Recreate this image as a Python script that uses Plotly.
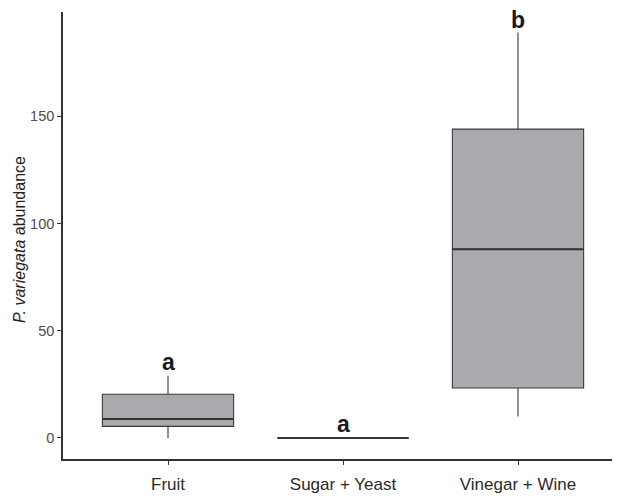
import plotly.graph_objects as go

categories = ["Fruit", "Sugar + Yeast", "Vinegar + Wine"]
lower_fence = [0, 0, 10]
q1 = [5.4, 0, 23.3]
median = [8.9, 0, 88]
q3 = [20.4, 0, 144]
upper_fence = [29, 0, 189]
letters = ["a", "a", "b"]
letter_y = [35.5, 6.5, 195]
y_ticks = [0, 50, 100, 150]
y_title = "<i>P. variegata</i> abundance"

positions = [1, 2, 3]
box_width = 0.75

fig = go.Figure()
fig.add_trace(go.Box(
    x=positions, q1=q1, median=median, q3=q3,
    lowerfence=lower_fence, upperfence=upper_fence,
    width=box_width, whiskerwidth=0,
    fillcolor="#A9AAAE",
    line=dict(color="#3a3a3a", width=1.1),
    boxpoints=False, showlegend=False, hoverinfo="skip",
))

# thicker median lines, as in ggplot
for p, m in zip(positions, median):
    fig.add_trace(go.Scatter(
        x=[p - box_width / 2, p + box_width / 2], y=[m, m], mode="lines",
        line=dict(color="#333333", width=2), showlegend=False, hoverinfo="skip",
    ))

for p, lab, ly in zip(positions, letters, letter_y):
    fig.add_annotation(x=p, y=ly, text=f"<b>{lab}</b>", showarrow=False,
                       font=dict(size=23, color="#1a1a1a", family="Liberation Sans, Arial"),
                       xanchor="center", yanchor="middle")

fig.add_annotation(x=-0.076, y=0.49, xref="paper", yref="paper", text=y_title,
                   textangle=-90, showarrow=False, xanchor="center", yanchor="middle",
                   font=dict(size=16, color="#222222", family="Liberation Sans, Arial"))

fig.update_layout(
    width=620, height=498,
    margin=dict(l=55, r=0, t=4, b=47),
    plot_bgcolor="white", paper_bgcolor="white",
    font=dict(family="Liberation Sans, Arial", color="#4d4d4d"),
    xaxis=dict(
        range=[0.4, 0.4 + 565 / 175], tickvals=positions, ticktext=categories,
        showgrid=False, zeroline=False, showline=True, linecolor="#333333", linewidth=1.6,
        ticks="outside", ticklen=4, tickcolor="#333333", tickwidth=1,
        tickfont=dict(size=17, color="#2a2a2a"), automargin=False,
        ticklabelstandoff=5,
    ),
    yaxis=dict(
        range=[-9.8, 198.6], tickvals=y_ticks,
        showgrid=False, zeroline=False, showline=True, linecolor="#333333", linewidth=1.6,
        ticks="outside", ticklen=4, tickcolor="#333333", tickwidth=1,
        tickfont=dict(size=14.5, color="#4d4d4d"), automargin=False,
    ),
)

fig.write_html("out.html")
